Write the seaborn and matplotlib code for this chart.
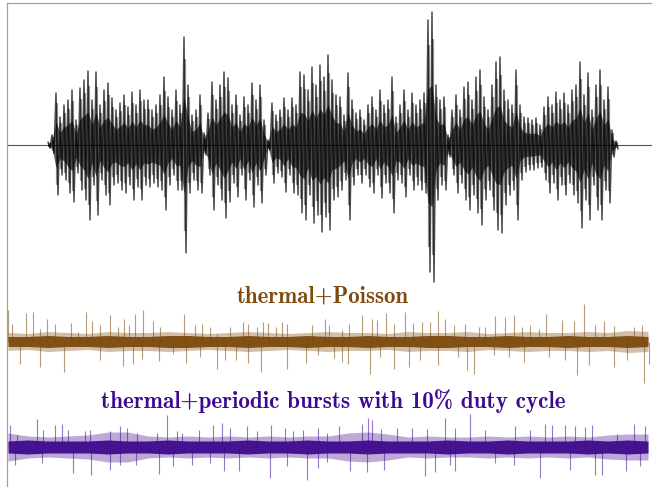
import numpy as np
import pandas as pd
import seaborn as sns
import matplotlib.pyplot as plt

# ----------------------
# Data (amplitudes in px-like units)
# ----------------------
# burst waveform: positive and negative peak at each time step
burst_t = list(range(48, 620, 4))
burst_up = [3, 10, 52, 28, 40, 45, 55, 25, 57, 65, 74, 45, 73, 40, 55, 62, 47, 35, 42, 50,
            38, 53, 40, 55, 45, 45, 35, 40, 50, 68, 48, 35, 55, 40, 108, 60, 30, 35, 50, 12,
            32, 63, 45, 60, 73, 67, 40, 50, 30, 48, 40, 62, 45, 60, 25, 5, 42, 30, 35, 47,
            35, 47, 40, 73, 70, 55, 78, 60, 80, 68, 90, 65, 50, 48, 30, 72, 45, 32, 35, 25,
            40, 48, 35, 55, 40, 45, 68, 28, 40, 55, 35, 52, 40, 45, 52, 125, 133, 60, 45, 48,
            10, 35, 50, 35, 58, 63, 45, 68, 75, 48, 35, 60, 83, 88, 55, 45, 40, 75, 40, 28,
            27, 25, 27, 20, 38, 48, 40, 53, 45, 52, 40, 55, 60, 83, 50, 72, 35, 60, 75, 45,
            58, 15, 4]
burst_down = [3, 8, 50, 30, 35, 48, 57, 28, 45, 55, 75, 40, 70, 35, 50, 60, 40, 38, 45, 48,
              40, 55, 42, 55, 40, 42, 38, 42, 45, 65, 40, 30, 45, 45, 108, 48, 35, 45, 48, 10,
              30, 65, 40, 55, 73, 57, 38, 52, 30, 55, 35, 62, 40, 58, 30, 5, 38, 28, 32, 47,
              30, 48, 50, 68, 75, 50, 78, 70, 87, 72, 85, 55, 52, 45, 35, 75, 40, 30, 38, 30,
              42, 48, 30, 53, 38, 48, 68, 35, 38, 52, 30, 45, 40, 45, 48, 127, 137, 55, 40, 45,
              12, 30, 48, 38, 55, 65, 50, 68, 80, 55, 45, 65, 85, 88, 60, 50, 45, 75, 35, 27,
              25, 25, 23, 22, 35, 48, 38, 55, 40, 50, 38, 50, 58, 83, 55, 75, 40, 65, 75, 45,
              58, 12, 4]

# noise band half-widths, sampled every 20 time units
band_t = list(range(8, 660, 20))
poisson_core = [5, 5, 6, 5, 5, 6, 5, 5, 6, 6, 5, 5, 6, 5, 5, 6, 5, 5, 6, 5, 5, 6, 6, 5, 5,
                6, 5, 5, 6, 5, 5, 6, 5]
poisson_edge = [9, 8, 10, 9, 8, 10, 9, 9, 10, 9, 8, 9, 10, 9, 8, 9, 10, 9, 9, 8, 10, 9, 9,
                10, 8, 9, 10, 9, 9, 10, 9, 11, 10]
periodic_core = [6, 7, 6, 6, 6, 7, 6, 6, 7, 6, 6, 6, 7, 6, 6, 7, 6, 6, 7, 6, 6, 6, 7, 6, 6,
                 7, 6, 6, 6, 7, 6, 7, 6]
periodic_edge = [14, 11, 10, 11, 12, 15, 15, 11, 10, 11, 10, 11, 10, 11, 10, 11, 11, 14, 15,
                 13, 10, 11, 10, 10, 11, 10, 11, 10, 11, 10, 12, 13, 13]

# spikes (time, height); negative height = downward spike
poisson_spike_t = [8, 12, 26, 33, 40, 47, 55, 71, 78, 86, 92, 100, 110, 118, 124, 129, 135,
                   143, 153, 160, 184, 195, 202, 210, 217, 230, 243, 248, 257, 263, 268, 276,
                   282, 287, 312, 325, 329, 342, 349, 362, 372, 377, 386, 394, 405, 413, 422,
                   430, 438, 445, 454, 465, 479, 485, 495, 505, 514, 522, 530, 539, 546, 562,
                   574, 584, 595, 604, 614, 634, 642,
                   20, 40, 64, 100, 123, 133, 142, 159, 173, 186, 200, 217, 225, 236, 248, 261,
                   287, 306, 318, 334, 342, 348, 370, 380, 394, 409, 420, 438, 458, 467, 474,
                   494, 509, 524, 549, 565, 577, 589, 614, 627, 644, 649]
poisson_spike_h = [32, 18, 29, 30, 13, 23, 18, 19, 10, 30, 21, 17, 27, 15, 23, 17, 28, 32,
                   21, 15, 28, 17, 18, 15, 8, 15, 20, 18, 15, 20, 19, 15, 20, 18, 17, 23, 17,
                   12, 18, 27, 23, 22, 29, 18, 30, 19, 20, 20, 31, 23, 17, 18, 15, 15, 26, 25,
                   27, 15, 17, 13, 28, 22, 21, 38, 17, 21, 16, 15, 17,
                   -22, -25, -30, -18, -24, -22, -17, -19, -12, -21, -15, -27, -18, -18, -21,
                   -30, -27, -21, -13, -16, -20, -22, -32, -15, -27, -25, -18, -23, -15, -28,
                   -32, -13, -15, -20, -15, -18, -33, -23, -25, -18, -41, -22]

periodic_spike_t = [10, 17, 37, 43, 55, 62, 68, 85, 90, 110, 120, 127, 137, 157, 167, 177,
                    182, 199, 213, 222, 230, 247, 257, 271, 285, 293, 303, 318, 327, 339, 362,
                    368, 372, 381, 397, 412, 427, 445, 455, 470, 485, 515, 530, 545, 552, 565,
                    575, 585, 592, 617, 634, 645,
                    15, 42, 73, 91, 110, 120, 136, 159, 173, 192, 210, 224, 239, 270, 287, 307,
                    318, 327, 350, 367, 384, 425, 435, 450, 455, 495, 514, 540, 570, 595, 602,
                    626, 640]
periodic_spike_h = [22, 12, 28, 17, 22, 23, 17, 16, 17, 16, 21, 19, 14, 14, 32, 16, 14, 17,
                    22, 24, 19, 21, 16, 22, 19, 16, 17, 19, 14, 21, 23, 29, 27, 18, 19, 19,
                    18, 29, 19, 33, 17, 21, 17, 23, 22, 22, 21, 20, 22, 13, 23, 21,
                    -18, -16, -26, -28, -23, -18, -18, -27, -19, -18, -16, -24, -24, -31, -19,
                    -33, -21, -15, -24, -25, -23, -29, -25, -18, -24, -16, -18, -31, -23, -28,
                    -28, -24, -19]

labels = ["thermal+Poisson", "thermal+periodic bursts with 10% duty cycle"]

# ----------------------
# Styles
# ----------------------
BROWN = "#7d4a0c"
PURPLE = "#3f0a8e"
OFF_BURST, OFF_POISSON, OFF_PERIODIC = 342, 145.5, 40

sns.set_style("white")
plt.rcParams["font.family"] = ["cmb10", "DejaVu Serif"]

fig = plt.figure(figsize=(6.52, 4.87), dpi=100)
ax = fig.add_axes([7.3 / 652, 0.0, 1 - 7.3 / 652, 483.7 / 487])

# ----------------------
# Burst waveform (zigzag between positive and negative peaks)
# ----------------------
t = np.asarray(burst_t, dtype=float)
up = np.asarray(burst_up, dtype=float)
down = np.asarray(burst_down, dtype=float)
zz_t = np.column_stack([t, t + 2]).ravel()
zz_y = np.column_stack([up, -down]).ravel()
burst_df = pd.DataFrame({"time": zz_t, "amp": zz_y + OFF_BURST})
ax.axhline(OFF_BURST, color="#555555", lw=0.8, zorder=1)
# dense inner part of the oscillation
ax.fill_between(t, OFF_BURST - 0.45 * down, OFF_BURST + 0.45 * up,
                color="black", alpha=0.6, lw=0, zorder=2)
ax.vlines(t + 1, OFF_BURST - 0.8 * down, OFF_BURST + 0.8 * up,
          color="black", alpha=0.4, lw=1.6, zorder=2)
sns.lineplot(data=burst_df, x="time", y="amp", estimator=None, sort=False,
             color="black", lw=1.1, alpha=0.7, ax=ax, zorder=3)


# ----------------------
# Noise traces: core band + spikes
# ----------------------
def draw_noise(offset, core, edge, spike_t, spike_h, color, spike_alpha):
    bt = np.asarray(band_t, dtype=float)
    ax.fill_between(bt, offset - np.asarray(edge), offset + np.asarray(edge),
                    color=color, alpha=0.35, lw=0, zorder=2)
    ax.fill_between(bt, offset - np.asarray(core), offset + np.asarray(core),
                    color=color, alpha=0.95, lw=0, zorder=3)
    h = np.asarray(spike_h, dtype=float)
    ax.vlines(spike_t, offset, offset + h, color=color, alpha=spike_alpha, lw=0.8, zorder=2)


draw_noise(OFF_POISSON, poisson_core, poisson_edge, poisson_spike_t, poisson_spike_h, BROWN, 0.55)
draw_noise(OFF_PERIODIC, periodic_core, periodic_edge, periodic_spike_t, periodic_spike_h,
           PURPLE, 0.55)

ax.text(323, 191, labels[0], color=BROWN, fontsize=16.5, ha="center", va="center")
ax.text(333, 86, labels[1], color=PURPLE, fontsize=16.7, ha="center", va="center")

# ----------------------
# Axes cosmetics
# ----------------------
ax.set_xlim(7.3, 652)
ax.set_ylim(0, 483.7)
ax.set_xticks([])
ax.set_yticks([])
ax.set_xlabel("")
ax.set_ylabel("")
for side in ["right", "bottom"]:
    ax.spines[side].set_visible(False)
for side in ["top", "left"]:
    ax.spines[side].set_color("#a0a0a0")
    ax.spines[side].set_linewidth(0.9)

fig.savefig("out.png", dpi=100)
